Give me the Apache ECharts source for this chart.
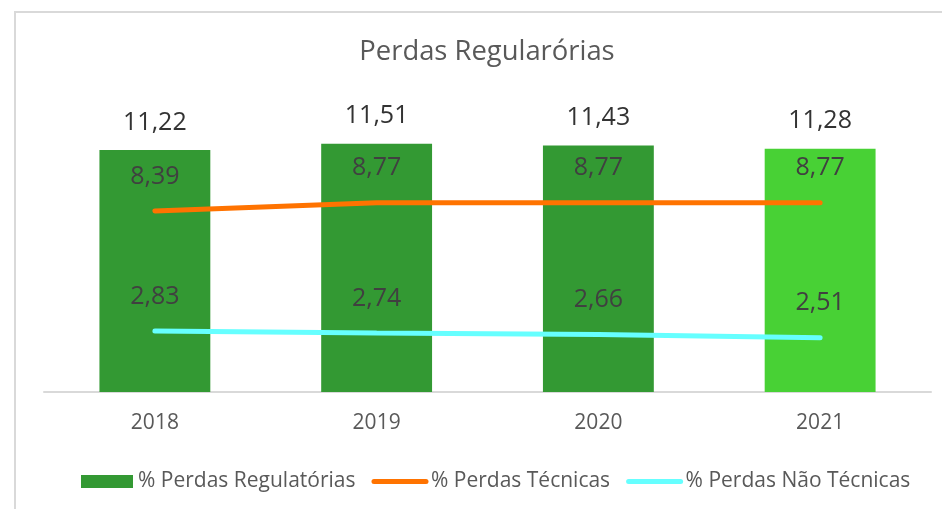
<!DOCTYPE html>
<html>
<head>
    <meta charset="utf-8">
    <title>Perdas Regularórias</title>
    <script src="https://cdn.jsdelivr.net/npm/echarts@6/dist/echarts.min.js"></script>
    <style>
        html, body { margin: 0; padding: 0; background: #fff; }
        #main { width: 942px; height: 509px; }
    </style>
</head>
<body>
    <div id="main"></div>

    <script type="text/javascript">
        // dados do gráfico
        var anos = ['2018', '2019', '2020', '2021'];
        var perdasRegulatorias = [11.22, 11.51, 11.43, 11.28];
        var perdasTecnicas = [8.39, 8.77, 8.77, 8.77];
        var perdasNaoTecnicas = [2.83, 2.74, 2.66, 2.51];

        var fonte = '"Open Sans", sans-serif';
        var verdeEscuro = '#339933';
        var verdeClaro = '#48d135';
        var laranja = '#ff7300';
        var ciano = '#66ffff';

        function virgula(p) {
            return p.value.toFixed(2).replace('.', ',');
        }

        // último ano destacado em verde claro
        var dadosBarras = perdasRegulatorias.map(function (v, i) {
            if (i === anos.length - 1) {
                return { value: v, itemStyle: { color: verdeClaro } };
            }
            return v;
        });

        var rotuloLinha = {
            show: true,
            position: 'top',
            distance: 22,
            fontFamily: fonte,
            fontSize: 25,
            color: '#404040',
            formatter: virgula
        };

        var myChart = echarts.init(document.getElementById('main'));

        myChart.setOption({
            animation: false,
            title: {
                text: 'Perdas Regularórias',
                left: 482,
                top: 34,
                textAlign: 'center',
                textStyle: {
                    fontFamily: fonte,
                    fontSize: 27.4,
                    fontWeight: 'normal',
                    color: '#595959'
                }
            },
            graphic: [{
                type: 'rect',
                silent: true,
                shape: { x: 15, y: 12, width: 1000, height: 600 },
                style: { fill: 'none', stroke: '#d9d9d9', lineWidth: 2 }
            }],
            legend: {
                left: 76,
                top: 466,
                itemWidth: 52,
                itemHeight: 13,
                itemGap: 16,
                textStyle: {
                    fontFamily: fonte,
                    fontSize: 21,
                    color: '#595959'
                },
                data: [
                    { name: '% Perdas Regulatórias', icon: 'rect' },
                    {
                        name: '% Perdas Técnicas',
                        itemStyle: { opacity: 0 },
                        lineStyle: { color: laranja, width: 5, cap: 'round' }
                    },
                    {
                        name: '% Perdas Não Técnicas',
                        itemStyle: { opacity: 0 },
                        lineStyle: { color: ciano, width: 5, cap: 'round' }
                    }
                ]
            },
            grid: {
                left: 44,
                right: 11,
                top: 90,
                bottom: 117
            },
            xAxis: {
                type: 'category',
                data: anos,
                axisTick: { show: false },
                axisLine: { lineStyle: { color: '#d9d9d9', width: 2 } },
                axisLabel: {
                    margin: 20,
                    fontFamily: fonte,
                    fontSize: 21,
                    lineHeight: 22,
                    color: '#595959'
                }
            },
            yAxis: {
                type: 'value',
                min: 0,
                max: 14,
                show: false
            },
            series: [
                {
                    name: '% Perdas Regulatórias',
                    type: 'bar',
                    barWidth: '50%',
                    itemStyle: { color: verdeEscuro },
                    label: {
                        show: true,
                        position: 'top',
                        distance: 15,
                        fontFamily: fonte,
                        fontSize: 25,
                        color: '#333333',
                        formatter: virgula
                    },
                    data: dadosBarras
                },
                {
                    name: '% Perdas Técnicas',
                    type: 'line',
                    symbol: 'circle',
                    symbolSize: 0,
                    showAllSymbol: true,
                    lineStyle: { color: laranja, width: 5, cap: 'round' },
                    itemStyle: { color: laranja },
                    label: rotuloLinha,
                    data: perdasTecnicas
                },
                {
                    name: '% Perdas Não Técnicas',
                    type: 'line',
                    symbol: 'circle',
                    symbolSize: 0,
                    showAllSymbol: true,
                    lineStyle: { color: ciano, width: 5, cap: 'round' },
                    itemStyle: { color: ciano },
                    label: rotuloLinha,
                    data: perdasNaoTecnicas
                }
            ]
        });
    </script>
</body>
</html>
